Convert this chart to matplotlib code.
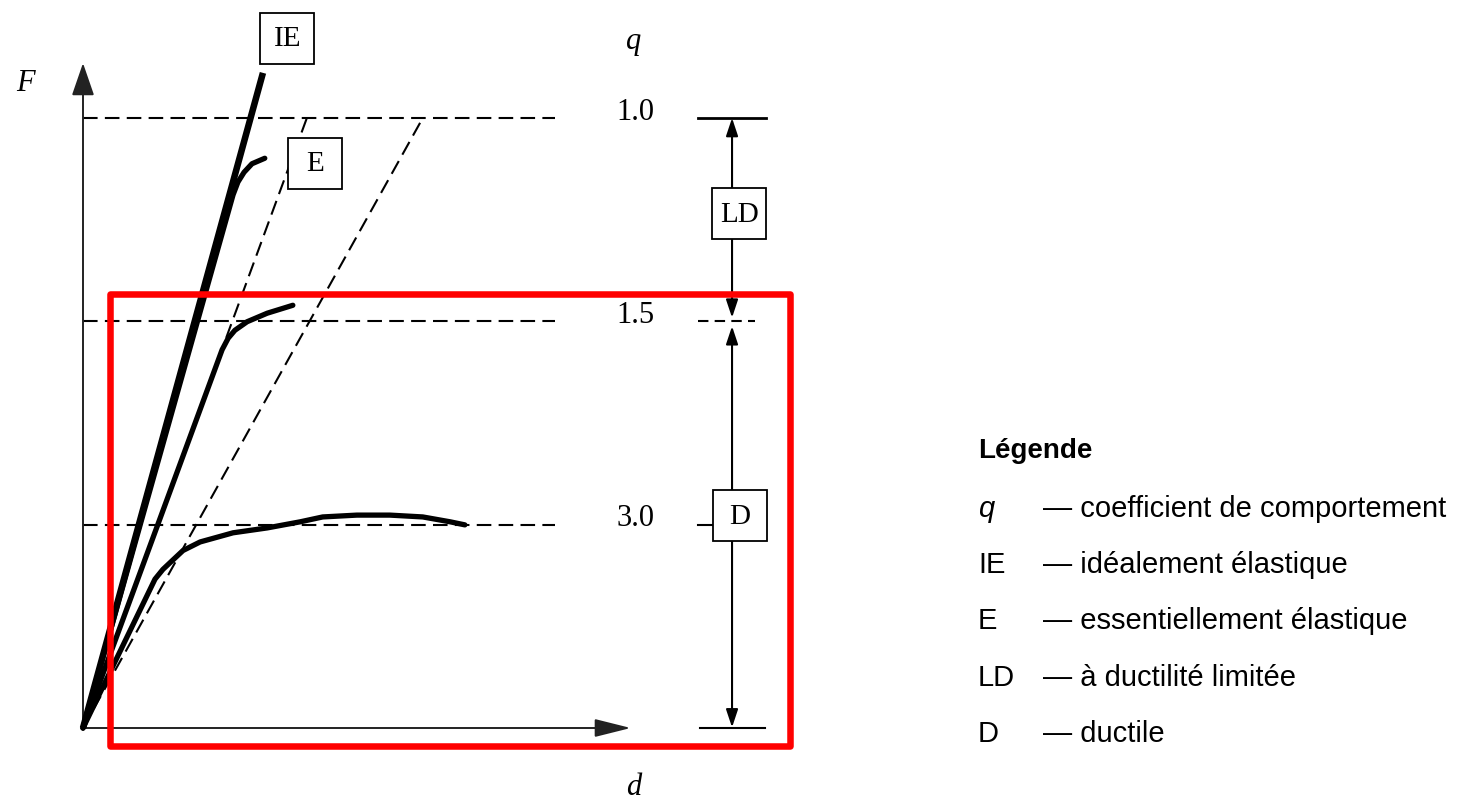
import numpy as np
import matplotlib.pyplot as plt
from matplotlib.patches import Rectangle

# Niveaux de coefficient de comportement : F = F_el / q
F_el = 1.0
q_levels = np.array([1.0, 1.5, 3.0])
q_labels = ['1.0', '1.5', '3.0']

# Courbes force-déplacement (d et F dans la même unité, F_el = 1)
ie_d = [0.0, 0.295]
ie_F = [0.0, 1.074]
e_d = [0.0, 0.246, 0.254, 0.264, 0.277, 0.298]
e_F = [0.0, 0.874, 0.895, 0.911, 0.925, 0.934]
ld_d = [0.0, 0.228, 0.238, 0.249, 0.269, 0.302, 0.344]
ld_F = [0.0, 0.620, 0.639, 0.652, 0.666, 0.680, 0.693]
du_d = [0.0, 0.118, 0.131, 0.148, 0.164, 0.192, 0.246, 0.302, 0.356, 0.393, 0.449, 0.503, 0.557, 0.602, 0.626]
du_F = [0.0, 0.244, 0.260, 0.276, 0.291, 0.305, 0.320, 0.328, 0.338, 0.346, 0.349, 0.349, 0.346, 0.338, 0.333]

# Prolongements élastiques (pointillés) jusqu'à F_el
elastic_d_end = [0.367, 0.557]
level_d_end = 0.774

# Étiquettes encadrées
box_labels = ['IE', 'E', 'LD', 'D']
box_d = [0.335, 0.380, 1.076, 1.077]
box_F = [1.131, 0.926, 0.843, 0.348]

# Cote verticale à droite
dim_d = 1.064

# Légende
legend_keys = ['q', 'IE', 'E', 'LD', 'D']
legend_desc = ['coefficient de comportement', 'idéalement élastique',
               'essentiellement élastique', 'à ductilité limitée', 'ductile']

# Zone encadrée en rouge
zone_d = (0.044, 1.159)
zone_F = (-0.0295, 0.712)

SERIF = ['Liberation Serif', 'DejaVu Serif']
SANS = ['Liberation Sans', 'DejaVu Sans']

fig = plt.figure(figsize=(14.64, 8.02), dpi=100)
ax = fig.add_axes([0, 0, 1, 1])
ax.set_xlim(-83 / 610, (1464 - 83) / 610)
ax.set_ylim((728 - 802) / 610, 728 / 610)
ax.axis('off')

F_levels = F_el / q_levels
dash = (0, (7, 3.5))

# axes F et d
ax.annotate('', xy=(0, 1.090), xytext=(0, 0),
            arrowprops=dict(arrowstyle='-|>,head_length=1.45,head_width=0.5',
                            mutation_scale=14, lw=1.4, color='#222222',
                            shrinkA=0, shrinkB=0))
ax.annotate('', xy=(0.898, 0), xytext=(0, 0),
            arrowprops=dict(arrowstyle='-|>,head_length=1.6,head_width=0.4',
                            mutation_scale=14, lw=1.4, color='#222222',
                            shrinkA=0, shrinkB=0))

# niveaux horizontaux et droites élastiques
for lv in F_levels:
    ax.plot([0, level_d_end], [lv, lv], color='black', lw=1.5, ls=dash, zorder=1)
for de in elastic_d_end:
    ax.plot([0, de], [0, F_el], color='black', lw=1.5, ls=dash, zorder=1)

# courbes
ax.plot(ie_d, ie_F, color='black', lw=4.7, solid_capstyle='butt', zorder=3)
for xs, ys in [(e_d, e_F), (ld_d, ld_F), (du_d, du_F)]:
    ax.plot(xs, ys, color='black', lw=3.8, solid_capstyle='round',
            solid_joinstyle='round', zorder=3)

# cote verticale
tick_l, tick_r = 1.008, 1.120
ax.plot([tick_l, tick_r], [F_levels[0]] * 2, color='black', lw=2.0, zorder=2)
ax.plot([tick_l, 1.102], [F_levels[1]] * 2, color='black', lw=1.5, ls=(0, (5, 3)), zorder=2)
ax.plot([tick_l, 1.033], [F_levels[2]] * 2, color='black', lw=1.5, zorder=2)
ax.plot([1.011, 1.118], [0, 0], color='black', lw=1.5, zorder=2)
arrow_kw = dict(arrowstyle='<|-|>,head_length=0.6,head_width=0.2',
                mutation_scale=18, lw=1.5, color='black', shrinkA=0, shrinkB=0)
ax.annotate('', xy=(dim_d, F_levels[0]), xytext=(dim_d, F_levels[1] + 0.006),
            arrowprops=arrow_kw, zorder=2)
ax.annotate('', xy=(dim_d, 0.001), xytext=(dim_d, F_levels[1] - 0.008),
            arrowprops=arrow_kw, zorder=2)

# étiquettes encadrées
bw, bh = 0.0885, 0.0836
for lab, bx, by in zip(box_labels, box_d, box_F):
    ax.add_patch(Rectangle((bx - bw / 2, by - bh / 2), bw, bh, facecolor='white',
                           edgecolor='black', lw=1.3, zorder=4))
    ax.text(bx, by - 0.002, lab, ha='center', va='center', fontsize=21,
            family=SERIF, zorder=5)

# valeurs de q
for lab, lv in zip(q_labels, F_levels):
    ax.text(0.905, lv - 0.003, lab, ha='center', va='baseline', fontsize=22,
            family=SERIF)
ax.text(0.902, 1.126, 'q', ha='center', va='center', fontsize=22,
        family=SERIF, style='italic')
ax.text(-0.095, 1.057, 'F', ha='center', va='center', fontsize=22,
        family=SERIF, style='italic')
ax.text(0.902, -0.097, 'd', ha='center', va='center', fontsize=22,
        family=SERIF, style='italic')

# zone encadrée
ax.add_patch(Rectangle((zone_d[0], zone_F[0]), zone_d[1] - zone_d[0],
                       zone_F[1] - zone_F[0], fill=False, edgecolor='#ff0000',
                       lw=4.7, joinstyle='round', zorder=6))

# légende
x_key, x_desc = 978 / 1464, 1043 / 1464
ax.text(x_key, 1 - 458 / 802, 'Légende', transform=ax.transAxes, fontsize=20,
        fontweight='bold', family=SANS, va='baseline')
y_rows = [517, 573, 629, 686, 742]
for key, desc, yr in zip(legend_keys, legend_desc, y_rows):
    ax.text(x_key, 1 - yr / 802, key, transform=ax.transAxes, fontsize=21,
            family=SANS, va='baseline', style='italic' if key == 'q' else 'normal')
    ax.text(x_desc, 1 - yr / 802, '— ' + desc, transform=ax.transAxes,
            fontsize=21, family=SANS, va='baseline')

fig.savefig('out.png', dpi=100)
